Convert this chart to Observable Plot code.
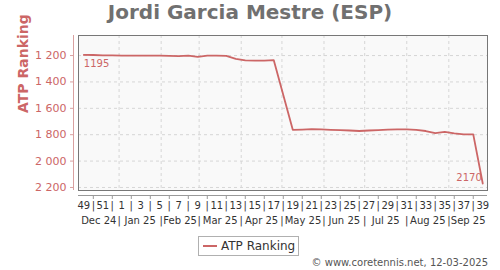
<!DOCTYPE html>
<html>
<head>
<meta charset="utf-8">
<script src="https://cdn.jsdelivr.net/npm/d3@7"></script>
<script src="https://cdn.jsdelivr.net/npm/@observablehq/plot@0.6"></script>
<style>
  html, body { margin: 0; padding: 0; background: #fff; }
  #wrap { position: relative; width: 500px; height: 270px; font-family: "DejaVu Sans", sans-serif; overflow: hidden; }
  #title { position: absolute; left: 0; width: 500px; top: 2px; text-align: center; font-size: 20px; font-weight: bold; color: #707070; line-height: 20px; }
  #legend { position: absolute; left: 198px; top: 236px; width: 101px; height: 20px; border: 1px solid #b0b0b0; background: #fff; box-sizing: border-box; }
  #legend .sw { position: absolute; left: 4px; top: 8px; width: 14px; height: 2px; background: #cc6666; }
  #legend .lb { position: absolute; left: 22px; top: 2px; font-size: 12px; line-height: 14px; color: #333; }
  #caption { position: absolute; right: 12px; top: 257px; font-size: 10px; line-height: 12px; color: #555; }
  #chart { position: absolute; left: 0; top: 0; }
</style>
</head>
<body>
<div id="wrap">
  <div id="chart"></div>
  <div id="title">Jordi Garcia Mestre (ESP)</div>
  <div id="legend"><div class="sw"></div><div class="lb">ATP Ranking</div></div>
  <div id="caption">© www.coretennis.net, 12-03-2025</div>
</div>
<script>
// ---- data ----
const weeks = [49,50,51,52,1,2,3,4,5,6,7,8,9,10,11,12,13,14,15,16,17,18,19,20,21,22,23,24,25,26,27,28,29,30,31,32,33,34,35,36,37,38,39];
const ranks = [1195,1196,1198,1199,1200,1200,1200,1200,1200,1202,
               1205,1200,1210,1200,1200,1203,1225,1237,1238,1238,1235,
               null,
               1763,1761,1758,1760,1763,1766,1768,1772,1768,1765,1762,1760,1760,1763,1772,1788,1778,1790,1797,1798,2170];
const monthNames = ["Dec 24","Jan 25","Feb 25","Mar 25","Apr 25","May 25","Jun 25","Jul 25","Aug 25","Sep 25"];
const yTicks = [1200,1400,1600,1800,2000,2200];
const firstWeekDate = new Date(Date.UTC(2024, 11, 6)); // week 49 of 2024
const yDomain = [1048, 2223];

// ---- derived ----
const x0 = new Date(Date.UTC(2024, 11, 2, 2));
const x1 = new Date(Date.UTC(2025, 8, 29, 12));
const rows = weeks.map((w, i) => ({week: w, date: d3.utcDay.offset(firstWeekDate, 7 * i), rank: ranks[i]}));
const lineData = rows.filter(d => d.rank != null);
const weekLabels = rows.map(d => ({date: d.date, label: d.week % 2 === 1 ? String(d.week) : "|"}));
const evenDates = rows.filter(d => d.week % 2 === 0).map(d => d.date);
const monthStarts = d3.utcMonth.range(d3.utcMonth.ceil(x0), x1);
const monthLabels = monthNames.map((name, k) => {
  const ms = d3.utcMonth.offset(d3.utcMonth.floor(x0), k);
  const me = d3.utcMonth.offset(ms, 1);
  const s = Math.max(+ms, +x0), e = Math.min(+me, +x1);
  return {date: new Date((s + e) / 2), name};
});
const first = lineData[0], last = lineData[lineData.length - 1];
const red = "#cc6666";
const fmt = d => d3.format(",")(d).replace(/,/g, " ");

const chart = Plot.plot({
  width: 500, height: 270,
  marginLeft: 78, marginRight: 13, marginTop: 35, marginBottom: 80,
  style: {fontFamily: "DejaVu Sans", background: "transparent", overflow: "visible"},
  x: {type: "utc", domain: [x0, x1]},
  y: {domain: yDomain, reverse: true},
  marks: [
    Plot.frame({fill: "#f9f9f9", stroke: null}),
    Plot.gridY(yTicks, {stroke: "#d6d6d6", strokeOpacity: 1, strokeDasharray: "3,3"}),
    Plot.gridX(monthStarts, {stroke: "#d6d6d6", strokeOpacity: 1, strokeDasharray: "3,3"}),
    Plot.frame({stroke: "#777"}),
    Plot.ruleX([x0], {dx: -5, stroke: "#d9a0a0"}),
    Plot.axisY(yTicks, {tickSize: 3, tickPadding: 4, dx: -5, stroke: "#d9a0a0", fill: red, fontSize: 11, tickFormat: fmt, label: null}),
    Plot.text(["ATP Ranking"], {frameAnchor: "left", dx: -55, rotate: -90, fontSize: 14, fontWeight: "bold", fill: red}),
    Plot.ruleY([yDomain[1]], {dy: 5, stroke: "#999"}),
    Plot.axisX(evenDates, {tickSize: 4, dy: 5, stroke: "#999", tickFormat: () => "", label: null}),
    Plot.text(weekLabels, {x: "date", text: "label", frameAnchor: "bottom", dy: 18, fontSize: 10, fill: "#333"}),
    Plot.text(monthStarts, {x: d => d, text: () => "|", frameAnchor: "bottom", dy: 33.5, fontSize: 10, fill: "#333"}),
    Plot.text(monthLabels, {x: "date", text: "name", frameAnchor: "bottom", dy: 33.5, fontSize: 10, fill: "#333"}),
    Plot.line(lineData, {x: "date", y: "rank", stroke: red, strokeWidth: 1.8}),
    Plot.text([first], {x: "date", y: "rank", text: d => String(d.rank), textAnchor: "start", dy: 9, fontSize: 10, fill: red}),
    Plot.text([last], {x: "date", y: "rank", text: d => String(d.rank), textAnchor: "end", dy: -6, dx: -1, fontSize: 10, fill: red})
  ]
});
document.getElementById("chart").appendChild(chart);
</script>
</body>
</html>
